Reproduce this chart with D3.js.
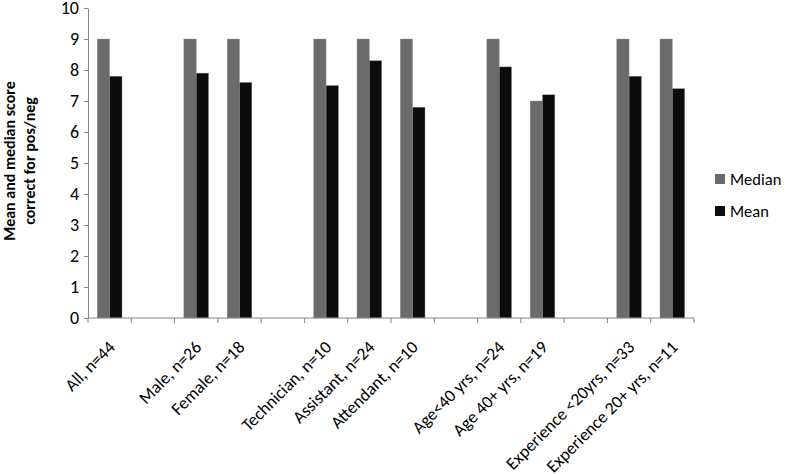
<!DOCTYPE html>
<html lang="en">
<head>
  <meta charset="UTF-8">
  <title>Mean and median score</title>
  <script src="https://d3js.org/d3.v7.min.js"></script>
  <style>
    body { margin: 0; background: #fff; }
    text { font-family: Carlito, Lato, "Open Sans", sans-serif; fill: #000; }
  </style>
</head>
<body>
  <svg width="787" height="474"></svg>
  <script>
    // categories, empty strings are the spacer slots between groups
    const categories = ['All, n=44', '', 'Male, n=26', 'Female, n=18', '',
      'Technician, n=10', 'Assistant, n=24', 'Attendant, n=10', '',
      'Age<40 yrs, n=24', 'Age 40+ yrs, n=19', '',
      'Experience <20yrs, n=33', 'Experience 20+ yrs, n=11'];
    const median = [9, null, 9, 9, null, 9, 9, 9, null, 9, 7.0, null, 9, 9];
    const mean = [7.8, null, 7.9, 7.6, null, 7.5, 8.3, 6.8, null, 8.1, 7.2, null, 7.8, 7.4];
    const seriesNames = ['Median', 'Mean'];
    const colors = ['#6b6b6b', '#0c0c0c'];
    const yTicks = d3.range(0, 11);

    const svg = d3.select('svg');
    const mLeft = 88, mRight = 694, mTop = 8, mBottom = 318;

    const x = d3.scaleBand()
      .domain(d3.range(categories.length))
      .range([mLeft, mRight]);

    const bw = x.bandwidth() / 3.5;
    const inner = d3.scaleBand()
      .domain(seriesNames)
      .range([0.75 * bw, 2.75 * bw]);

    const y = d3.scaleLinear().domain([0, 10]).range([mBottom, mTop]);

    // bars
    const series = [median, mean];
    series.forEach((vals, s) => {
      svg.append('g')
        .selectAll('rect')
        .data(vals.map((v, i) => ({ v, i })).filter(d => d.v != null))
        .join('rect')
        .attr('x', d => x(d.i) + inner(seriesNames[s]))
        .attr('y', d => y(d.v))
        .attr('width', inner.bandwidth())
        .attr('height', d => y(0) - y(d.v))
        .attr('fill', colors[s])
        .attr('stroke', '#9a9a9a')
        .attr('stroke-width', 0.4);
    });

    // y axis
    const yAxis = svg.append('g')
      .attr('transform', `translate(${mLeft},0)`)
      .call(d3.axisLeft(y).tickValues(yTicks).tickSize(4).tickSizeOuter(0).tickPadding(5));
    yAxis.select('.domain').attr('stroke', '#868686');
    yAxis.selectAll('.tick line').attr('stroke', '#868686');
    yAxis.selectAll('.tick text').attr('font-size', 18).attr('font-family', 'Carlito, Lato, sans-serif');

    // x axis: ticks at slot boundaries
    svg.append('line')
      .attr('x1', mLeft).attr('x2', mRight)
      .attr('y1', mBottom).attr('y2', mBottom)
      .attr('stroke', '#868686');
    svg.append('g')
      .selectAll('line')
      .data(d3.range(categories.length + 1))
      .join('line')
      .attr('x1', i => mLeft + i * x.step())
      .attr('x2', i => mLeft + i * x.step())
      .attr('y1', mBottom).attr('y2', mBottom + 5)
      .attr('stroke', '#868686');

    svg.append('g')
      .selectAll('text')
      .data(categories.map((c, i) => ({ c, i })).filter(d => d.c))
      .join('text')
      .attr('transform', d => `translate(${x(d.i) + x.bandwidth() / 2 + 2},${mBottom + 26}) rotate(-45)`)
      .attr('text-anchor', 'end')
      .attr('dy', '0.35em')
      .attr('font-size', 17.5)
      .text(d => d.c);

    // y axis title
    svg.append('text')
      .attr('transform', 'translate(20,161) rotate(-90)')
      .attr('text-anchor', 'middle')
      .attr('font-size', 16)
      .attr('font-weight', 'bold')
      .selectAll('tspan')
      .data(['Mean and median score', 'correct for pos/neg'])
      .join('tspan')
      .attr('x', 0)
      .attr('dy', (d, i) => i === 0 ? '-0.3em' : '1.25em')
      .text(d => d);

    // legend
    const legend = svg.append('g')
      .selectAll('g')
      .data(seriesNames)
      .join('g')
      .attr('transform', (d, i) => `translate(715,${179 + i * 32})`);
    legend.append('rect')
      .attr('x', 0).attr('y', -5)
      .attr('width', 10).attr('height', 10)
      .attr('fill', (d, i) => colors[i]);
    legend.append('text')
      .attr('x', 15)
      .attr('dy', '0.35em')
      .attr('font-size', 16.5)
      .text(d => d);
  </script>
</body>
</html>
